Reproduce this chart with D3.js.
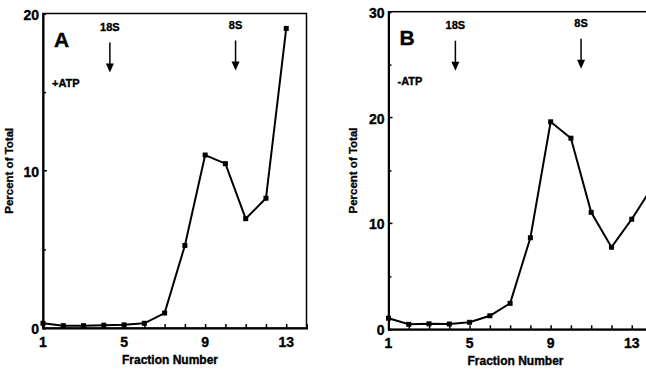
<!DOCTYPE html>
<html>
<head>
<meta charset="utf-8">
<script src="https://cdn.jsdelivr.net/npm/d3@7"></script>
<style>
  body { margin: 0; background: #fff; }
  svg { display: block; font-family: "Liberation Sans", Arial, sans-serif; font-weight: bold; }
  svg text { stroke: #000; stroke-width: 0.35px; }
</style>
</head>
<body>
<div id="chart"></div>
<script>
// fraction numbers and percent of total
var fractionsA = [1, 2, 3, 4, 5, 6, 7, 8, 9, 10, 11, 12, 13];
var percentA = [0.3, 0.15, 0.15, 0.18, 0.2, 0.3, 0.95, 5.25, 11.0, 10.45, 6.95, 8.25, 19.05];

var fractionsB = [1, 2, 3, 4, 5, 6, 7, 8, 9, 10, 11, 12, 13, 14];
var percentB = [1.05, 0.47, 0.52, 0.5, 0.66, 1.28, 2.45, 8.65, 19.6, 18.05, 11.05, 7.75, 10.4, 13.4];

var xTicks = [1, 5, 9, 13];
var yTicksA = [0, 10, 20];
var yTicksB = [0, 10, 20, 30];
var markerFractions = [4.3, 10.5]; // 18S, 8S
var markerLabels = ["18S", "8S"];

var svg = d3.select("#chart").append("svg")
  .attr("width", 646)
  .attr("height", 378);

function panel(opts) {
  var x = d3.scaleLinear().domain([1, 14]).range([opts.left, opts.left + 263.5]);
  var y = d3.scaleLinear().domain([0, opts.ymax]).range([opts.bottom, opts.top]);
  var g = svg.append("g");

  // frame
  g.append("rect")
    .attr("x", x(1)).attr("y", y(opts.ymax))
    .attr("width", x(14) - x(1)).attr("height", y(0) - y(opts.ymax))
    .attr("fill", "none").attr("stroke", "#000").attr("stroke-width", 1.5);

  // x axis: minor ticks pointing inside at every fraction
  var xAxis = d3.axisBottom(x).tickValues(d3.range(1, 15)).tickSize(-4).tickFormat("");
  var xa = g.append("g").attr("transform", "translate(0," + y(0) + ")").call(xAxis);
  xa.select(".domain").attr("stroke-width", 2);
  xa.selectAll(".tick line").attr("stroke-width", 1.5);
  g.selectAll(".xlab").data(xTicks).enter().append("text")
    .attr("x", function(d) { return x(d); })
    .attr("y", y(0) + 19)
    .attr("text-anchor", "middle")
    .style("font-size", "14px")
    .text(function(d) { return d; });

  // y axis
  var yAxis = d3.axisLeft(y).tickValues(d3.range(5, opts.ymax, 10)).tickSize(-3).tickFormat("");
  var ya = g.append("g").attr("transform", "translate(" + x(1) + ",0)").call(yAxis);
  ya.select(".domain").attr("stroke-width", 2);
  ya.selectAll(".tick line").attr("stroke-width", 1.5);
  g.selectAll(".ymaj").data(opts.yTicks.filter(function(d) { return d > 0 && d < opts.ymax; }))
    .enter().append("line")
    .attr("x1", x(1)).attr("x2", x(1) + 4)
    .attr("y1", function(d) { return y(d); }).attr("y2", function(d) { return y(d); })
    .attr("stroke", "#000").attr("stroke-width", 1.5);
  g.selectAll(".ylab").data(opts.yTicks).enter().append("text")
    .attr("x", x(1) - 4)
    .attr("y", function(d) { return y(d) + 6; })
    .attr("text-anchor", "end")
    .style("font-size", "14px")
    .text(function(d) { return d; });

  g.append("text")
    .attr("transform", "translate(" + (x(1) - opts.ylabOff) + "," + y(opts.ymax / 2) + ") rotate(-90)")
    .attr("text-anchor", "middle")
    .style("font-size", "11.5px")
    .text("Percent of Total");

  g.append("text")
    .attr("x", x(1) + 127)
    .attr("y", y(0) + 36)
    .attr("text-anchor", "middle")
    .style("font-size", "12px")
    .text("Fraction Number");

  // panel letter and condition
  g.append("text").attr("x", x(1) + 11).attr("y", y(opts.ymax) + 33)
    .style("font-size", "21px").text(opts.letter);
  g.append("text").attr("x", x(1) + 9).attr("y", y(opts.ymax) + 73)
    .style("font-size", "11px").text(opts.cond);

  // sedimentation markers
  markerFractions.forEach(function(f, i) {
    var mx = x(f);
    var top = y(opts.ymax);
    g.append("text").attr("x", mx).attr("y", top + (i == 0 ? 17 : 15))
      .attr("text-anchor", "middle").style("font-size", "11px").text(markerLabels[i]);
    var a0 = top + (i == 0 ? 29 : 27), a1 = a0 + 30;
    g.append("line").attr("x1", mx).attr("x2", mx).attr("y1", a0).attr("y2", a1 - 6)
      .attr("stroke", "#000").attr("stroke-width", 1.5);
    g.append("path")
      .attr("d", "M" + (mx - 4) + "," + (a1 - 9) + "L" + (mx + 4) + "," + (a1 - 9) + "L" + mx + "," + a1 + "Z")
      .attr("fill", "#000");
  });

  // data
  var pts = opts.fractions.map(function(f, i) { return [f, opts.values[i]]; });
  var line = d3.line().x(function(d) { return x(d[0]); }).y(function(d) { return y(d[1]); });
  g.append("path").datum(pts)
    .attr("d", line)
    .attr("fill", "none").attr("stroke", "#000").attr("stroke-width", 2);
  g.selectAll(".pt").data(pts).enter().append("rect")
    .attr("x", function(d) { return x(d[0]) - 2.5; })
    .attr("y", function(d) { return y(d[1]) - 2.5; })
    .attr("width", 5).attr("height", 5)
    .attr("fill", "#000");
}

panel({ left: 43, top: 13.5, bottom: 328, ymax: 20, yTicks: yTicksA, ylabOff: 30,
        fractions: fractionsA, values: percentA, letter: "A", cond: "+ATP" });
panel({ left: 388.5, top: 11.7, bottom: 329.3, ymax: 30, yTicks: yTicksB, ylabOff: 32,
        fractions: fractionsB, values: percentB, letter: "B", cond: "-ATP" });
</script>
</body>
</html>
